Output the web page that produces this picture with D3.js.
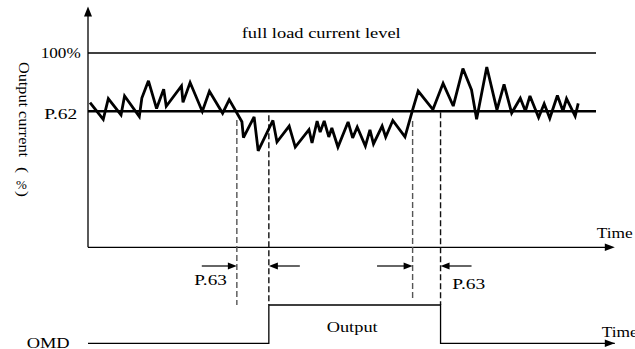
<!DOCTYPE html>
<html><head><meta charset="utf-8">
<script src="https://cdn.jsdelivr.net/npm/d3@7"></script>
<style>
body{margin:0;background:#fff}
svg{display:block}
text{font-family:"Liberation Serif","Times New Roman",serif;fill:#000}
</style>
</head><body>
<svg id="c" width="635" height="349"></svg>
<script>
// ---- data ----
const time = [0.4,3.0,4.0,6.5,7.2,10.1,10.6,11.9,13.5,14.9,15.4,18.4,18.7,20.1,22.5,23.9,26.5,27.8,30.3,30.6,
  32.7,33.5,36.4,37.2,39.6,40.8,43.5,44.1,45.1,45.7,46.5,47.4,48.0,49.2,51.2,52.1,53.0,54.6,55.5,56.2,
  57.9,58.6,60.0,62.4,63.9,65.0,67.9,69.9,71.9,73.8,75.5,76.5,78.5,80.5,81.9,83.4,85.1,86.1,87.0,88.7,
  89.8,90.9,92.4,93.5,94.2,95.9,96.5];
const current = [74.4,65.8,76.5,68.1,77.9,67.3,76.8,85.7,71.4,81.4,72.6,83.0,74.6,84.8,69.9,80.3,69.0,76.0,64.6,56.5,
  67.1,49.6,65.3,54.2,62.4,51.6,60.6,53.7,65.0,59.3,65.0,56.8,61.4,51.6,64.5,56.3,61.9,52.1,60.4,53.2,
  62.4,56.8,65.3,56.8,70.7,80.4,70.9,84.4,72.7,92.0,81.0,65.9,92.8,70.7,83.9,69.1,76.7,70.1,77.9,66.8,
  73.9,66.4,78.1,70.1,76.5,67.5,74.1];
const fullLoadLevel = 100;
const p62Level = 70;
const markTimes = [29.3, 35.6, 63.9, 69.4];
const markTops = [65.5, 68.0, 65.0, 69.5];      // current % where dashed markers start
const markBottoms = [1.0, 1.0, 1.18, 1.0];      // OMD level where dashed markers end
const markDark = [false, true, false, true];
const arrowTails = [22.4, 41.7, 56.9, 75.5];    // P.63 arrows: tail times (tips at markTimes)
const omdTime = [0, 35.6, 35.6, 69.4, 69.4, 103.7];
const omdState = [0, 0, 1, 1, 0, 0];
const labels = {full:"full load current level", hundred:"100%", p62:"P.62", p63:"P.63",
  output:"Output", omd:"OMD", time:"Time", yTitle:"Output current", yUnit:["(", "%", ")"]};

// ---- scales ----
const svg = d3.select("#c");
const x = d3.scaleLinear().domain([0, 100]).range([88, 596]);
const y = d3.scaleLinear().domain([0, 100]).range([247.3, 53]);
const yo = d3.scaleLinear().domain([0, 1]).range([343.3, 305]);
const arrowY = 266;

function head(tx, ty, dir, len, hw) {
  if (dir === 'r') return `M${tx},${ty}L${tx-len},${ty-hw}L${tx-len},${ty+hw}Z`;
  if (dir === 'l') return `M${tx},${ty}L${tx+len},${ty-hw}L${tx+len},${ty+hw}Z`;
  return `M${tx},${ty}L${tx-hw},${ty+len}L${tx+hw},${ty+len}Z`;
}

// axes
const xEnd = x(103.7);
svg.append("line").attr("x1", x(0)).attr("x2", x(0)).attr("y1", 14).attr("y2", y(0))
  .attr("stroke", "#000").attr("stroke-width", 1.3);
svg.append("path").attr("d", head(x(0), 6.5, 'u', 10, 4)).attr("fill", "#000");
svg.append("line").attr("x1", x(0)).attr("x2", xEnd - 8).attr("y1", y(0)).attr("y2", y(0))
  .attr("stroke", "#000").attr("stroke-width", 1.3);
svg.append("path").attr("d", head(xEnd, y(0), 'r', 10, 3.8)).attr("fill", "#000");

// reference levels
svg.append("line").attr("x1", x(0)).attr("x2", x(100)).attr("y1", y(fullLoadLevel)).attr("y2", y(fullLoadLevel))
  .attr("stroke", "#000").attr("stroke-width", 1.3);
svg.append("line").attr("x1", x(0)).attr("x2", x(100)).attr("y1", y(p62Level)).attr("y2", y(p62Level))
  .attr("stroke", "#000").attr("stroke-width", 2.6);

// dashed markers
markTimes.forEach((t, i) => {
  svg.append("line").attr("x1", x(t)).attr("x2", x(t))
    .attr("y1", y(markTops[i])).attr("y2", yo(markBottoms[i]))
    .attr("stroke", markDark[i] ? "#111" : "#555").attr("stroke-width", 1.4)
    .attr("stroke-dasharray", "6,3");
});

// current line
const pts = time.map((t, i) => [t, current[i]]);
svg.append("path").datum(pts)
  .attr("d", d3.line().x(d => x(d[0])).y(d => y(d[1])))
  .attr("fill", "none").attr("stroke", "#000").attr("stroke-width", 2.8)
  .attr("stroke-linejoin", "miter").attr("stroke-miterlimit", 3);

// P.63 arrows
markTimes.forEach((t, i) => {
  const dir = arrowTails[i] < t ? 'r' : 'l';
  const tip = x(t), tail = x(arrowTails[i]);
  svg.append("line").attr("x1", tail).attr("x2", dir === 'r' ? tip - 8 : tip + 8)
    .attr("y1", arrowY).attr("y2", arrowY).attr("stroke", "#000").attr("stroke-width", 1.2);
  svg.append("path").attr("d", head(tip, arrowY, dir, 9, 3.6)).attr("fill", "#000");
});

// OMD signal
svg.append("path").datum(omdTime.map((t, i) => [t, omdState[i]]))
  .attr("d", d3.line().x(d => x(d[0])).y(d => yo(d[1])))
  .attr("fill", "none").attr("stroke", "#000").attr("stroke-width", 1.3);
svg.append("path").attr("d", head(xEnd, yo(0), 'r', 10, 3.8)).attr("fill", "#000");

// texts
function txt(s, px, py, len, anchor) {
  return svg.append("text").attr("x", px).attr("y", py).attr("font-size", 14)
    .attr("text-anchor", anchor || "start").attr("textLength", len)
    .attr("lengthAdjust", "spacingAndGlyphs").text(s);
}
txt(labels.full, 241.7, 38, 159);
txt(labels.hundred, 40.7, 57.5, 40);
txt(labels.p62, 44.3, 119, 33);
txt(labels.p63, 194.3, 285, 32.5);
txt(labels.p63, 452.3, 289, 33);
txt(labels.output, 326.7, 331.5, 51);
txt(labels.omd, 26.7, 347.5, 43);
txt(labels.time, 596.7, 238, 36);
txt(labels.time, 601.7, 337, 36);

// vertical y title: Latin rotated, unit in vertical form
svg.append("text").attr("transform", "translate(18.5,62) rotate(90)")
  .attr("font-size", 14).attr("textLength", 95).attr("lengthAdjust", "spacingAndGlyphs")
  .text(labels.yTitle);
svg.append("text").attr("transform", "translate(17.5,167) rotate(90)")
  .attr("font-size", 14).attr("textLength", 6).attr("lengthAdjust", "spacingAndGlyphs")
  .text(labels.yUnit[0]);
svg.append("text").attr("x", 21.5).attr("y", 188.5).attr("font-size", 13)
  .attr("text-anchor", "middle").text(labels.yUnit[1]);
svg.append("text").attr("transform", "translate(17.5,191) rotate(90)")
  .attr("font-size", 14).attr("textLength", 6).attr("lengthAdjust", "spacingAndGlyphs")
  .text(labels.yUnit[2]);
</script>
</body></html>
